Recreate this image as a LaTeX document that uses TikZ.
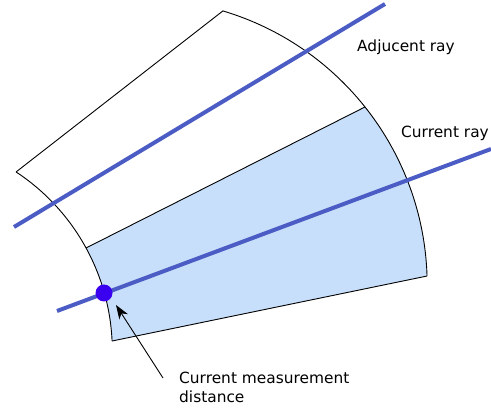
\documentclass[tikz,border=0pt]{standalone}
\usepackage{fontspec}
\setmainfont{DejaVu Sans}
\usetikzlibrary{arrows.meta}
\definecolor{rayblue}{HTML}{4B5CC4}
\definecolor{cellfill}{HTML}{C7DFFA}
\definecolor{hitblue}{HTML}{3A00F0}
\tikzset{
  cell/.style    = {draw=black, line width=0.9pt},
  ray/.style     = {draw=rayblue, line width=4pt},
  raylabel/.style= {anchor=base west, inner sep=0pt, align=left,
                    font=\fontsize{15.4}{19.5}\selectfont},
  pointer/.style = {-{Stealth[length=14pt, width=10pt, inset=4pt]}, line width=0.9pt},
}

\begin{document}
\begin{tikzpicture}[x=1pt, y=-1pt]
  \useasboundingbox (0,0) rectangle (491,414);
  % arc centres
  \coordinate (ci) at (-101.7,350.6);
  \coordinate (co) at (141.2,285);
  % corners of the two cells
  \coordinate (a1) at ([shift={(-56.6:214)}]ci);
  \coordinate (b1) at ([shift={(-28.66:214)}]ci);
  \coordinate (c1) at ([shift={(-2.57:214)}]ci);
  \coordinate (a2) at ([shift={(-73.4:286)}]co);
  \coordinate (b2) at ([shift={(-38.5:286)}]co);
  \coordinate (c2) at ([shift={(-1.8:286)}]co);

  \fill[cellfill] (b1) -- (b2) arc[start angle=-38.5, end angle=-1.8, radius=286]
    -- (c1) arc[start angle=-2.57, end angle=-28.66, radius=214] -- cycle;
  \draw[cell] (b1) -- (b2);
  \draw[cell] (c1) -- (c2);
  \draw[cell] (a1) -- (a2) arc[start angle=-73.4, end angle=-1.8, radius=286];
  \draw[cell] (a1) arc[start angle=-56.6, end angle=-2.57, radius=214];

  % rays
  \coordinate (adj0) at (14,227);
  \coordinate (adj1) at (385,4);
  \coordinate (cur0) at (57,311);
  \coordinate (cur1) at (491,149);
  \draw[ray] (adj0) -- (adj1);
  \draw[ray] (cur0) -- (cur1);

  \node[circle, fill=hitblue, inner sep=0pt, minimum size=17pt] (hit) at (104,293) {};

  \node[raylabel] (adjlabel) at (357,52) {Adjucent ray};
  \node[raylabel] (curlabel) at (401,138) {Current ray};
  \node[raylabel] (distlabel) at (179,403) {Current measurement\\distance};

  \coordinate (tail) at (163,378);
  \coordinate (tip) at (116,305);
  \draw[pointer] (tail) -- (tip);
\end{tikzpicture}
\end{document}
